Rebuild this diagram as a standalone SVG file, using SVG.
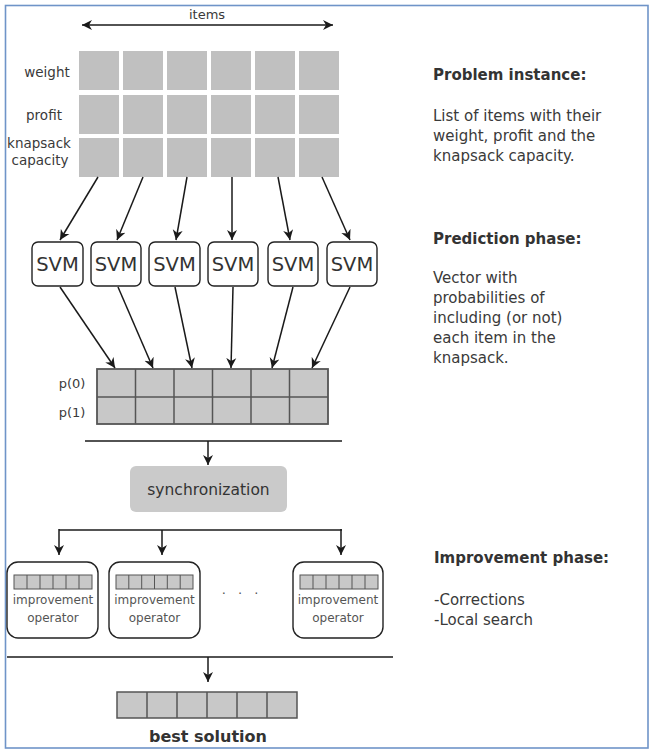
<svg xmlns="http://www.w3.org/2000/svg" width="651" height="750" viewBox="0 0 651 750">
<style>
text{font-family:"DejaVu Sans","Liberation Sans",sans-serif;fill:#3a3a3a}
.lbl{font-size:13.5px;text-anchor:middle}
.cell{fill:#c0c0c0}
.vcell{fill:#c8c8c8;stroke:#555;stroke-width:1.5}
.box{fill:#fff;stroke:#222;stroke-width:1.4}
.svm{font-size:19.5px;text-anchor:middle;fill:#333}
.ln{stroke:#1a1a1a;stroke-width:1.5;fill:none}
.arr{stroke:#1a1a1a;stroke-width:1.5;fill:none;marker-end:url(#ah)}
.h{font-size:15px;font-weight:bold;fill:#333}
.t{font-size:15px;fill:#3a3a3a}
.op{font-size:12px;text-anchor:middle;fill:#555}
</style>
<defs>
<marker id="ah" markerUnits="userSpaceOnUse" markerWidth="12" markerHeight="12" refX="10" refY="5" orient="auto-start-reverse" viewBox="0 0 12 10">
<path d="M0,0 L10,5 L0,10 L3,5 z" fill="#1a1a1a"/>
</marker>
</defs>
<rect x="5.5" y="5.5" width="642.5" height="742.5" fill="#fff" stroke="#6f94c8" stroke-width="1.6"/>

<g id="items-axis">
<line class="ln" x1="82" y1="25" x2="333" y2="25" marker-start="url(#ah)" marker-end="url(#ah)"/>
<text class="lbl" x="207" y="19" style="font-size:13px">items</text>
</g>

<g id="instance-grid">
<g id="row-weight">
<rect class="cell" x="79" y="51" width="40" height="39"/><rect class="cell" x="123" y="51" width="40" height="39"/><rect class="cell" x="167" y="51" width="40" height="39"/><rect class="cell" x="211" y="51" width="40" height="39"/><rect class="cell" x="255" y="51" width="40" height="39"/><rect class="cell" x="299" y="51" width="40" height="39"/>
</g>
<g id="row-profit">
<rect class="cell" x="79" y="95" width="40" height="39"/><rect class="cell" x="123" y="95" width="40" height="39"/><rect class="cell" x="167" y="95" width="40" height="39"/><rect class="cell" x="211" y="95" width="40" height="39"/><rect class="cell" x="255" y="95" width="40" height="39"/><rect class="cell" x="299" y="95" width="40" height="39"/>
</g>
<g id="row-capacity">
<rect class="cell" x="79" y="138" width="40" height="39"/><rect class="cell" x="123" y="138" width="40" height="39"/><rect class="cell" x="167" y="138" width="40" height="39"/><rect class="cell" x="211" y="138" width="40" height="39"/><rect class="cell" x="255" y="138" width="40" height="39"/><rect class="cell" x="299" y="138" width="40" height="39"/>
</g>
<text class="lbl" x="47" y="77">weight</text>
<text class="lbl" x="44" y="120">profit</text>
<text class="lbl" x="39" y="148">knapsack</text>
<text class="lbl" x="40" y="165">capacity</text>
</g>

<g id="svm1"><rect class="box" x="32" y="242" width="51" height="44" rx="6"/><text class="svm" x="57.5" y="271">SVM</text></g>
<g id="svm2"><rect class="box" x="91" y="242" width="50" height="44" rx="6"/><text class="svm" x="116" y="271">SVM</text></g>
<g id="svm3"><rect class="box" x="149" y="242" width="51" height="44" rx="6"/><text class="svm" x="174.5" y="271">SVM</text></g>
<g id="svm4"><rect class="box" x="208" y="242" width="50" height="44" rx="6"/><text class="svm" x="233" y="271">SVM</text></g>
<g id="svm5"><rect class="box" x="268" y="242" width="50" height="44" rx="6"/><text class="svm" x="293" y="271">SVM</text></g>
<g id="svm6"><rect class="box" x="327" y="242" width="50" height="44" rx="6"/><text class="svm" x="352" y="271">SVM</text></g>

<g id="prob-vector">
<rect x="97" y="369" width="231" height="55" fill="#c8c8c8" stroke="#555" stroke-width="1.8"/>
<path class="ln" d="M97,397H328M135.5,369V424M174,369V424M212.5,369V424M251,369V424M289.5,369V424" style="stroke:#555;stroke-width:1.5"/>
<text class="lbl" x="72" y="388" style="font-size:13px">p(0)</text>
<text class="lbl" x="72" y="417" style="font-size:13px">p(1)</text>
</g>

<g id="synchronization">
<rect x="130" y="466" width="157" height="46" rx="6" fill="#cacaca"/>
<text x="208.5" y="495" style="font-size:15.5px;text-anchor:middle;fill:#333">synchronization</text>
</g>

<g id="op1">
<rect class="box" x="7" y="562" width="91" height="76" rx="11"/>
<rect class="vcell" x="14" y="575" width="78" height="14" style="stroke-width:1"/>
<path d="M27,575V589M40,575V589M53,575V589M66,575V589M79,575V589" stroke="#555" stroke-width="1"/>
<text class="op" x="53" y="604">improvement</text><text class="op" x="53" y="622">operator</text>
</g>
<g id="op2">
<rect class="box" x="109" y="562" width="91" height="76" rx="11"/>
<rect class="vcell" x="116" y="575" width="77" height="14" style="stroke-width:1"/>
<path d="M128.8,575V589M141.7,575V589M154.5,575V589M167.3,575V589M180.2,575V589" stroke="#555" stroke-width="1"/>
<text class="op" x="154.5" y="604">improvement</text><text class="op" x="154.5" y="622">operator</text>
</g>
<g id="dots"><text x="242" y="598" style="font-size:13px;text-anchor:middle;fill:#555;letter-spacing:4px">· · ·</text></g>
<g id="op3">
<rect class="box" x="293" y="562" width="90" height="76" rx="11"/>
<rect class="vcell" x="300" y="575" width="78" height="14" style="stroke-width:1"/>
<path d="M313,575V589M326,575V589M339,575V589M352,575V589M365,575V589" stroke="#555" stroke-width="1"/>
<text class="op" x="338" y="604">improvement</text><text class="op" x="338" y="622">operator</text>
</g>

<g id="best-solution">
<rect x="117" y="692" width="180" height="26" fill="#c8c8c8" stroke="#555" stroke-width="1.5"/>
<path d="M147,692V718M177,692V718M207,692V718M237,692V718M267,692V718" stroke="#555" stroke-width="1.5"/>
<text x="208" y="742" style="font-size:16px;font-weight:bold;text-anchor:middle;fill:#333">best solution</text>
</g>

<g id="connectors">
<line class="arr" x1="98" y1="177" x2="60" y2="240"/>
<line class="arr" x1="143" y1="177" x2="117" y2="240"/>
<line class="arr" x1="187" y1="177" x2="176" y2="240"/>
<line class="arr" x1="232" y1="177" x2="232" y2="240"/>
<line class="arr" x1="278" y1="177" x2="290" y2="240"/>
<line class="arr" x1="322" y1="177" x2="350" y2="240"/>
<line class="arr" x1="60" y1="287" x2="115" y2="368"/>
<line class="arr" x1="118" y1="287" x2="153" y2="368"/>
<line class="arr" x1="175" y1="287" x2="192" y2="368"/>
<line class="arr" x1="233" y1="287" x2="231" y2="368"/>
<line class="arr" x1="293" y1="287" x2="272" y2="368"/>
<line class="arr" x1="350" y1="287" x2="312" y2="368"/>
<line class="ln" x1="85" y1="441" x2="342" y2="441"/>
<line class="arr" x1="208" y1="441" x2="208" y2="465"/>
<path class="ln" d="M59,530H342"/>
<line class="arr" x1="59" y1="529" x2="59" y2="555"/>
<line class="arr" x1="162" y1="530" x2="162" y2="555"/>
<line class="arr" x1="341" y1="529" x2="341" y2="555"/>
<line class="ln" x1="7" y1="657" x2="393" y2="657"/>
<line class="arr" x1="208" y1="657" x2="208" y2="682"/>
</g>

<g id="desc-instance">
<text class="h" x="433" y="80">Problem instance:</text>
<text class="t" x="433" y="121">List of items with their</text>
<text class="t" x="433" y="141">weight, profit and the</text>
<text class="t" x="433" y="161">knapsack capacity.</text>
</g>
<g id="desc-prediction">
<text class="h" x="433" y="244">Prediction phase:</text>
<text class="t" x="433" y="283">Vector with</text>
<text class="t" x="433" y="303">probabilities of</text>
<text class="t" x="433" y="323">including (or not)</text>
<text class="t" x="433" y="343">each item in the</text>
<text class="t" x="433" y="363">knapsack.</text>
</g>
<g id="desc-improvement">
<text class="h" x="434" y="563">Improvement phase:</text>
<text class="t" x="434" y="605">-Corrections</text>
<text class="t" x="434" y="625">-Local search</text>
</g>
</svg>
